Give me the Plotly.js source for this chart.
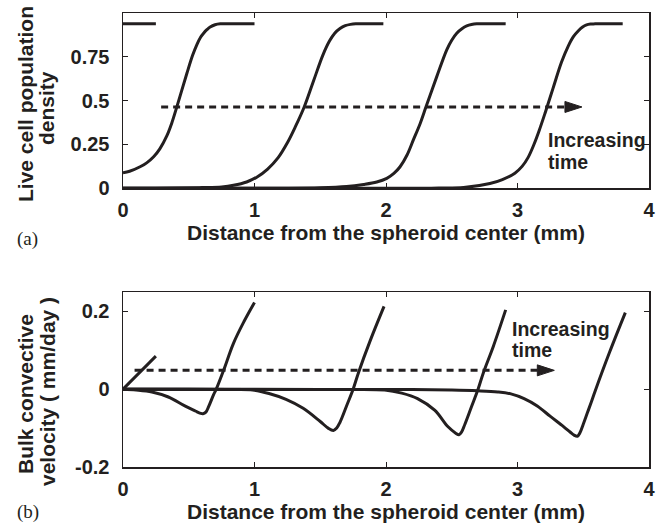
<!DOCTYPE html>
<html>
<head>
<meta charset="utf-8">
<script src="https://cdn.plot.ly/plotly-3.0.1.min.js"></script>
<style>html,body{margin:0;padding:0;background:#fff;}#chart{width:667px;height:527px;}</style>
</head>
<body>
<div id="chart"></div>
<script>
// ---------- Axis ticks ----------
const xTicks = [0, 1, 2, 3, 4];
const xTickText = ["0", "1", "2", "3", "4"];
const densTicks = [0, 0.25, 0.5, 0.75];
const densTickText = ["0", "0.25", "0.5", "0.75"];
const velTicks = [-0.2, 0, 0.2];
const velTickText = ["-0.2", "0", "0.2"];

// ---------- Data: (a) live cell population density ----------
const dens0X = [0, 0.25];
const dens0Y = [0.938, 0.938];
const dens1X = [0, 0.05, 0.13, 0.18, 0.233, 0.28, 0.334, 0.37, 0.41, 0.486, 0.53, 0.562, 0.59, 0.613, 0.64, 0.663, 0.70, 0.74, 0.85, 1.0];
const dens1Y = [0.089, 0.097, 0.123, 0.145, 0.18, 0.225, 0.30, 0.37, 0.466, 0.656, 0.76, 0.82, 0.862, 0.885, 0.906, 0.92, 0.933, 0.938, 0.938, 0.938];
const dens2X = [0, 0.4, 0.6, 0.75, 0.84, 0.94, 1.02, 1.1, 1.18, 1.25, 1.31, 1.378, 1.45, 1.52, 1.57, 1.61, 1.65, 1.69, 1.73, 1.77, 1.98];
const dens2Y = [0, 0.001, 0.004, 0.008, 0.017, 0.036, 0.065, 0.11, 0.175, 0.26, 0.35, 0.464, 0.615, 0.76, 0.84, 0.885, 0.912, 0.928, 0.935, 0.938, 0.938];
const dens3X = [0, 1.2, 1.5, 1.7, 1.83, 1.93, 2.006, 2.06, 2.107, 2.16, 2.208, 2.26, 2.305, 2.386, 2.462, 2.5, 2.538, 2.58, 2.614, 2.65, 2.69, 2.91];
const dens3Y = [0, 0.0005, 0.003, 0.01, 0.022, 0.036, 0.057, 0.085, 0.123, 0.19, 0.276, 0.37, 0.466, 0.637, 0.79, 0.845, 0.885, 0.912, 0.926, 0.934, 0.938, 0.938];
const dens4X = [0, 2.1, 2.4, 2.59, 2.79, 2.885, 2.98, 3.035, 3.08, 3.125, 3.165, 3.21, 3.27, 3.335, 3.385, 3.425, 3.465, 3.495, 3.525, 3.555, 3.59, 3.8];
const dens4Y = [0, 0.0005, 0.001, 0.004, 0.027, 0.05, 0.086, 0.125, 0.175, 0.25, 0.33, 0.43, 0.57, 0.72, 0.81, 0.865, 0.9, 0.92, 0.932, 0.937, 0.938, 0.938];

// ---------- Data: (b) bulk convective velocity ----------
const vel0X = [0, 0.25];
const vel0Y = [0, 0.085];
const vel1X = [0, 0.1, 0.22, 0.345, 0.47, 0.55, 0.59, 0.608, 0.63, 0.651, 0.689, 0.709, 0.765, 0.84, 0.92, 1.0];
const vel1Y = [0, -0.002, -0.007, -0.02, -0.043, -0.056, -0.062, -0.063, -0.059, -0.045, -0.014, 0, 0.0485, 0.118, 0.174, 0.223];
const vel2X = [0, 0.5, 0.8, 0.986, 1.11, 1.24, 1.37, 1.5, 1.56, 1.60, 1.625, 1.65, 1.70, 1.75, 1.79, 1.88, 1.985];
const vel2Y = [0, -0.0003, -0.001, -0.002, -0.011, -0.026, -0.049, -0.083, -0.1, -0.106, -0.1, -0.085, -0.043, 0, 0.042, 0.125, 0.213];
const vel3X = [0, 1.0, 1.6, 1.99, 2.12, 2.24, 2.37, 2.47, 2.53, 2.555, 2.575, 2.60, 2.65, 2.70, 2.74, 2.816, 2.91];
const vel3Y = [0, -0.0005, -0.001, -0.002, -0.01, -0.024, -0.054, -0.096, -0.113, -0.117, -0.11, -0.09, -0.045, 0, 0.042, 0.11, 0.204];
const vel4X = [0, 1.5, 2.2, 2.5, 2.7, 2.85, 2.95, 3.05, 3.15, 3.25, 3.35, 3.40, 3.43, 3.455, 3.475, 3.50, 3.53, 3.56, 3.59, 3.70, 3.82];
const vel4Y = [0, -0.0005, -0.001, -0.002, -0.004, -0.007, -0.012, -0.024, -0.043, -0.07, -0.096, -0.11, -0.118, -0.121, -0.112, -0.09, -0.062, -0.034, -0.005, 0.095, 0.197];

// ---------- "Increasing time" arrows ----------
const arrowA = {x0: 0.29, tipX: 3.49, y: 0.464, labelX: 3.22, labelY1: 0.276, labelY2: 0.15};
const arrowB = {x0: 0.088, tipX: 3.28, y: 0.0485, labelX: 2.94, labelY1: 0.156, labelY2: 0.10};

// ---------- Styling ----------
const INK = '#231f20';
const SANS = 'Liberation Sans, Arial, Helvetica, sans-serif';
const LW = 3;
const W = 667, H = 527;
const M = {l: 123, r: 18, t: 13, b: 60};
const plotW = W - M.l - M.r, plotH = H - M.t - M.b;
const topDom = [(467 - 188.3) / plotH, 1];
const botDom = [0, (467 - 292) / plotH];
const xRange = [0, 4];
const yRangeA = [0, 1];
const yRangeB = [-0.2, 0.25];

function curve(x, y, xa, ya) {
  return {x: x, y: y, xaxis: xa, yaxis: ya, type: 'scatter', mode: 'lines',
    line: {color: INK, width: LW, shape: 'spline', smoothing: 1.0}, hoverinfo: 'skip', showlegend: false};
}
// arrow head size in pixels
const headLen = 17, headHalf = 5.5;
function arrowTraces(a, xa, ya, yRange, domain) {
  const pxX = (xRange[1] - xRange[0]) / plotW;
  const pxY = (yRange[1] - yRange[0]) / (plotH * (domain[1] - domain[0]));
  const baseX = a.tipX - headLen * pxX;
  return [
    {x: [a.x0, baseX + 1 * pxX], y: [a.y, a.y], xaxis: xa, yaxis: ya, type: 'scatter', mode: 'lines',
      line: {color: INK, width: LW, dash: '7px,5px'}, hoverinfo: 'skip', showlegend: false},
    {x: [baseX, a.tipX, baseX, baseX], y: [a.y - headHalf * pxY, a.y, a.y + headHalf * pxY, a.y - headHalf * pxY],
      xaxis: xa, yaxis: ya, type: 'scatter', mode: 'lines', fill: 'toself', fillcolor: INK,
      line: {color: INK, width: 1}, hoverinfo: 'skip', showlegend: false}
  ];
}

const data = [
  curve(dens0X, dens0Y, 'x', 'y'),
  curve(dens1X, dens1Y, 'x', 'y'),
  curve(dens2X, dens2Y, 'x', 'y'),
  curve(dens3X, dens3Y, 'x', 'y'),
  curve(dens4X, dens4Y, 'x', 'y'),
  ...arrowTraces(arrowA, 'x', 'y', yRangeA, topDom),
  curve(vel0X, vel0Y, 'x2', 'y2'),
  curve(vel1X, vel1Y, 'x2', 'y2'),
  curve(vel2X, vel2Y, 'x2', 'y2'),
  curve(vel3X, vel3Y, 'x2', 'y2'),
  curve(vel4X, vel4Y, 'x2', 'y2'),
  ...arrowTraces(arrowB, 'x2', 'y2', yRangeB, botDom)
];

const tickFont = {family: SANS, size: 20, color: INK, weight: 'bold'};
function xAxis(anchor) {
  return {anchor: anchor, range: xRange, tickvals: xTicks, ticktext: xTickText, ticks: 'inside', ticklen: 5,
    tickwidth: 1, tickcolor: INK, showline: true, linecolor: INK, linewidth: 1.5, mirror: 'ticks',
    showgrid: false, zeroline: false, tickfont: tickFont, ticklabelstandoff: 3, fixedrange: true};
}
function yAxis(anchor, range, dom, vals, text) {
  return {anchor: anchor, domain: dom, range: range, tickvals: vals, ticktext: text, ticks: 'inside', ticklen: 5,
    tickwidth: 1, tickcolor: INK, showline: true, linecolor: INK, linewidth: 1.5, mirror: 'ticks',
    showgrid: false, zeroline: false, tickfont: tickFont, ticklabelstandoff: 8, fixedrange: true};
}
const px2x = p => (p - M.l) / plotW;
const px2y = p => (H - M.b - p) / plotH;
const titleFont = {family: SANS, size: 21, color: INK, weight: 'bold'};
const labelFont = {family: SANS, size: 19.5, color: INK, weight: 'bold'};
const serifFont = {family: 'Liberation Serif, Times New Roman, serif', size: 19, color: INK};

const xTitle = 'Distance from the spheroid center (mm)';
const annotations = [
  {text: xTitle, xref: 'paper', yref: 'paper', x: 0.5, y: px2y(232), xanchor: 'center', yanchor: 'middle', showarrow: false, font: titleFont},
  {text: xTitle, xref: 'paper', yref: 'paper', x: 0.5, y: px2y(511), xanchor: 'center', yanchor: 'middle', showarrow: false, font: titleFont},
  {text: 'Live cell population', xref: 'paper', yref: 'paper', x: px2x(25), y: px2y(104), textangle: -90, xanchor: 'center', yanchor: 'middle', showarrow: false, font: titleFont},
  {text: 'density', xref: 'paper', yref: 'paper', x: px2x(47), y: px2y(108), textangle: -90, xanchor: 'center', yanchor: 'middle', showarrow: false, font: titleFont},
  {text: 'Bulk convective', xref: 'paper', yref: 'paper', x: px2x(25), y: px2y(394), textangle: -90, xanchor: 'center', yanchor: 'middle', showarrow: false, font: titleFont},
  {text: 'velocity ( mm/day )', xref: 'paper', yref: 'paper', x: px2x(47), y: px2y(392), textangle: -90, xanchor: 'center', yanchor: 'middle', showarrow: false, font: titleFont},
  {text: '(a)', xref: 'paper', yref: 'paper', x: px2x(15), y: px2y(239), xanchor: 'left', yanchor: 'middle', showarrow: false, font: serifFont},
  {text: '(b)', xref: 'paper', yref: 'paper', x: px2x(15), y: px2y(512), xanchor: 'left', yanchor: 'middle', showarrow: false, font: serifFont},
  {text: 'Increasing', xref: 'x', yref: 'y', x: arrowA.labelX, y: arrowA.labelY1, xanchor: 'left', yanchor: 'middle', showarrow: false, font: labelFont},
  {text: 'time', xref: 'x', yref: 'y', x: arrowA.labelX, y: arrowA.labelY2, xanchor: 'left', yanchor: 'middle', showarrow: false, font: labelFont},
  {text: 'Increasing', xref: 'x2', yref: 'y2', x: arrowB.labelX, y: arrowB.labelY1, xanchor: 'left', yanchor: 'middle', showarrow: false, font: labelFont},
  {text: 'time', xref: 'x2', yref: 'y2', x: arrowB.labelX, y: arrowB.labelY2, xanchor: 'left', yanchor: 'middle', showarrow: false, font: labelFont}
];

const layout = {
  width: W, height: H, margin: M, paper_bgcolor: '#ffffff', plot_bgcolor: '#ffffff',
  showlegend: false,
  xaxis: xAxis('y'),
  yaxis: yAxis('x', yRangeA, topDom, densTicks, densTickText),
  xaxis2: xAxis('y2'),
  yaxis2: yAxis('x2', yRangeB, botDom, velTicks, velTickText),
  annotations: annotations
};

Plotly.newPlot('chart', data, layout, {staticPlot: true, displayModeBar: false});
</script>
</body>
</html>
